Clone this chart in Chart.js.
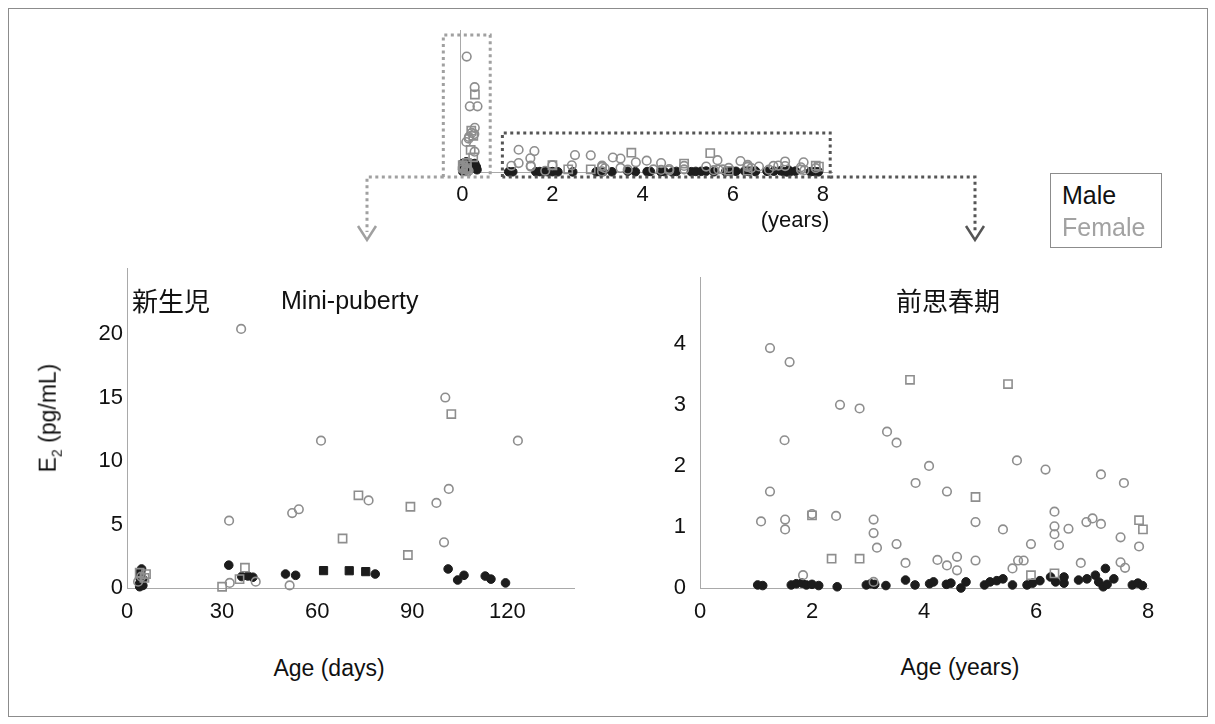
<!DOCTYPE html>
<html>
<head>
<meta charset="utf-8">
<script src="https://cdn.jsdelivr.net/npm/chart.js@4.4.1/dist/chart.umd.min.js"></script>
<style>
  body {
    margin: 0; background: #fff; width: 1215px; height: 724px;
    position: relative; overflow: hidden;
    font-family: 'Liberation Sans', Arial, sans-serif; color: #111;
  }
  .frame { position: absolute; left: 8px; top: 8px; width: 1198px; height: 707px; border: 1px solid #8c8c8c; }
  .wrap { position: absolute; }
  canvas { display: block; }
  .txt { position: absolute; white-space: nowrap; line-height: 1; }
  .c { transform: translate(-50%, -50%); }
  .l { transform: translateY(-50%); }
  .cjk { font-family: 'Noto Sans CJK JP', sans-serif; }
  .legend { position: absolute; left: 1050px; top: 173px; width: 110px; height: 73px; border: 1px solid #8c8c8c; }
</style>
</head>
<body>
<div class="frame"></div>

<div class="wrap" style="left:300px; top:10px"><canvas id="overview" width="720" height="250"></canvas></div>
<div class="wrap" style="left:0px; top:250px"><canvas id="infant" width="600" height="400"></canvas></div>
<div class="wrap" style="left:600px; top:250px"><canvas id="child" width="600" height="400"></canvas></div>

<div class="txt c" style="left:795px; top:220px; font-size:22px">(years)</div>

<div class="legend"></div>
<div class="txt l" style="left:1062px; top:195px; font-size:25px; color:#111">Male</div>
<div class="txt l" style="left:1062px; top:227px; font-size:25px; color:#a2a2a2">Female</div>

<div class="txt l cjk" style="left:132px; top:300px; font-size:26px">新生児</div>
<div class="txt l" style="left:281px; top:300px; font-size:25px">Mini-puberty</div>
<div class="txt c cjk" style="left:948px; top:300px; font-size:26px">前思春期</div>

<div class="txt c" style="left:50px; top:418px; font-size:23px; transform: translate(-50%, -50%) rotate(-90deg)">E<sub style="font-size:14px">2</sub> (pg/mL)</div>
<div class="txt c" style="left:329px; top:668px; font-size:23px">Age (days)</div>
<div class="txt c" style="left:960px; top:667px; font-size:23px">Age (years)</div>

<script>
// ── Data ──────────────────────────────────────────────────────────────────────

// infants, age in days, E2 in pg/mL
const infMaleCircDays  = [4, 4, 4.3, 4, 4.5, 4.2, 5, 5, 4.6, 32.1, 36.2, 38.1, 39.7, 50, 53.2, 78.3, 101.3, 104.3, 106.3, 113, 114.8, 119.4];
const infMaleCircE2    = [0.1, 0.35, 0.6, 0.85, 1.05, 1.3, 0.2, 0.7, 1.5, 1.8, 0.9, 0.95, 0.85, 1.1, 1.0, 1.1, 1.5, 0.63, 1.0, 0.94, 0.7, 0.4];
const infMaleSqDays    = [62, 70.1, 75.3];
const infMaleSqE2      = [1.37, 1.36, 1.29];
const infFemCircDays   = [36, 100.4, 61.2, 123.3, 101.5, 76.2, 97.6, 54.2, 52.1, 32.2, 100, 51.3, 40.6, 32.4, 3.5, 4.5];
const infFemCircE2     = [20.4, 15.0, 11.6, 11.6, 7.8, 6.9, 6.7, 6.2, 5.9, 5.3, 3.6, 0.2, 0.5, 0.4, 0.5, 0.9];
const infFemSqDays     = [102.3, 73, 89.4, 68, 88.6, 37.2, 30, 35.5, 5.5, 6, 4];
const infFemSqE2       = [13.7, 7.3, 6.4, 3.9, 2.6, 1.6, 0.1, 0.7, 0.8, 1.1, 1.2];

// children, age in years
const chMaleYears = [1.03, 1.12, 1.63, 1.72, 1.82, 1.9, 2.0, 2.12, 2.45, 2.97, 3.05, 3.12, 3.32, 3.67, 3.84,
                     4.1, 4.17, 4.4, 4.48, 4.66, 4.75, 5.08, 5.18, 5.3, 5.41, 5.58, 5.84, 5.94, 6.07, 6.26,
                     6.35, 6.5, 6.5, 6.76, 6.91, 7.06, 7.24, 7.12, 7.2, 7.27, 7.39, 7.72, 7.82, 7.9];
const chMaleE2    = [0.05, 0.04, 0.05, 0.07, 0.08, 0.05, 0.06, 0.04, 0.02, 0.05, 0.07, 0.06, 0.04, 0.13, 0.05,
                     0.07, 0.1, 0.06, 0.08, 0.0, 0.1, 0.05, 0.1, 0.12, 0.15, 0.05, 0.05, 0.08, 0.12, 0.18,
                     0.1, 0.08, 0.18, 0.13, 0.15, 0.21, 0.32, 0.1, 0.02, 0.06, 0.15, 0.05, 0.08, 0.04];
const chFemCircYears = [1.25, 1.6, 2.5, 2.85, 1.51, 3.34, 3.51, 4.09, 5.66, 6.17, 7.16, 7.57, 3.85, 4.41, 1.25,
                        1.09, 1.52, 1.52, 2.0, 2.43, 3.1, 3.1, 3.16, 3.51, 3.67, 4.24, 4.41, 4.59, 4.59, 4.92,
                        4.92, 5.41, 5.58, 5.68, 5.78, 5.91, 6.33, 6.33, 6.33, 6.41, 6.58, 6.8, 6.9, 7.01, 7.16,
                        7.51, 7.51, 7.59, 7.84, 1.84, 3.1];
const chFemCircE2    = [3.93, 3.7, 3.0, 2.94, 2.42, 2.56, 2.38, 2.0, 2.09, 1.94, 1.86, 1.72, 1.72, 1.58, 1.58,
                        1.09, 1.12, 0.96, 1.21, 1.18, 1.12, 0.9, 0.66, 0.72, 0.41, 0.46, 0.37, 0.51, 0.29, 1.08,
                        0.45, 0.96, 0.32, 0.45, 0.45, 0.72, 1.25, 1.01, 0.88, 0.7, 0.97, 0.41, 1.08, 1.14, 1.05,
                        0.83, 0.42, 0.33, 0.68, 0.21, 0.1];
const chFemSqYears   = [3.75, 5.5, 4.92, 2.0, 2.35, 2.85, 5.91, 6.33, 7.84, 7.91];
const chFemSqE2      = [3.41, 3.34, 1.49, 1.19, 0.48, 0.48, 0.21, 0.24, 1.11, 0.96];

// tick labels
const dayTicks   = [0, 30, 60, 90, 120];
const yearTicks  = [0, 2, 4, 6, 8];
const infE2Ticks = [0, 5, 10, 15, 20];
const chE2Ticks  = [0, 1, 2, 3, 4];

// ── Helpers ───────────────────────────────────────────────────────────────────

const MALE   = '#1c1c1c';
const FEMALE = '#8e8e8e';
const FONT   = "'Liberation Sans', Arial, sans-serif";

function pairs(xs, ys, scale = 1) {
    return xs.map((x, i) => ({ x: x * scale, y: ys[i] }));
}

function series(points, male, square) {
    return {
        data: points,
        pointStyle: square ? 'rect' : 'circle',
        pointRadius: square ? 5.8 : 4.3,
        borderWidth: male ? 1 : 1.6,
        borderColor: male ? MALE : FEMALE,
        backgroundColor: male ? MALE : 'rgba(0,0,0,0)',
        clip: false
    };
}

function fixedTicks(values) {
    return scale => { scale.ticks = values.map(v => ({ value: v })); };
}

function axis(min, max, ticks, size, pad, opts = {}) {
    return Object.assign({
        type: 'linear', min, max,
        afterBuildTicks: fixedTicks(ticks),
        grid: { display: false, drawTicks: false },
        border: { display: true, color: '#a9a9a9', width: 1 },
        ticks: {
            color: '#111', padding: pad,
            font: { family: FONT, size, lineHeight: 1.2 }
        }
    }, opts);
}

const baseOptions = {
    responsive: false,
    animation: false,
    devicePixelRatio: 1,
    events: [],
    plugins: { legend: { display: false }, tooltip: { enabled: false } }
};

// ── Overview with zoom frames ────────────────────────────────────────────────

function dotted(ctx, color, pts) {
    ctx.save();
    ctx.strokeStyle = color;
    ctx.lineWidth = 3;
    ctx.setLineDash([3, 3.5]);
    ctx.beginPath();
    ctx.moveTo(pts[0][0], pts[0][1]);
    for (let i = 1; i < pts.length; i++) ctx.lineTo(pts[i][0], pts[i][1]);
    ctx.stroke();
    ctx.restore();
}

function chevron(ctx, color, x, y) {
    ctx.save();
    ctx.strokeStyle = color;
    ctx.lineWidth = 2.5;
    ctx.beginPath();
    ctx.moveTo(x - 9, y - 14);
    ctx.lineTo(x, y);
    ctx.lineTo(x + 9, y - 14);
    ctx.stroke();
    ctx.restore();
}

const zoomFrames = {
    id: 'zoomFrames',
    afterDatasetsDraw(chart) {
        const { ctx, scales: { x, y } } = chart;
        // newborn / mini-puberty window
        const a = { l: x.getPixelForValue(-0.42), r: x.getPixelForValue(0.62),
                    t: y.getPixelForValue(24.2), b: y.getPixelForValue(-0.9) };
        // prepubertal window
        const b = { l: x.getPixelForValue(0.89), r: x.getPixelForValue(8.16),
                    t: y.getPixelForValue(6.9), b: y.getPixelForValue(-0.9) };
        const light = '#a0a0a0', dark = '#555';
        dotted(ctx, light, [[a.l, a.b], [a.l, a.t], [a.r, a.t], [a.r, a.b], [a.l, a.b]]);
        dotted(ctx, dark, [[b.l, b.b], [b.l, b.t], [b.r, b.t], [b.r, b.b], [b.l, b.b]]);
        // leaders down to the enlarged panels
        dotted(ctx, light, [[a.l, a.b], [67, a.b], [67, 222]]);
        dotted(ctx, dark, [[b.r, b.b], [675, b.b], [675, 222]]);
        chevron(ctx, light, 67, 230);
        chevron(ctx, dark, 675, 230);
    }
};

function initOverview() {
    const toYears = 1 / 365;
    new Chart(document.getElementById('overview'), {
        type: 'scatter',
        data: {
            datasets: [
                series(pairs(infFemCircDays, infFemCircE2, toYears), false, false),
                series(pairs(infFemSqDays, infFemSqE2, toYears), false, true),
                series(pairs(chFemCircYears, chFemCircE2), false, false),
                series(pairs(chFemSqYears, chFemSqE2), false, true),
                series(pairs(infMaleCircDays, infMaleCircE2, toYears), true, false),
                series(pairs(infMaleSqDays, infMaleSqE2, toYears), true, true),
                series(pairs(chMaleYears, chMaleE2), true, false)
            ]
        },
        options: Object.assign({}, baseOptions, {
            layout: { padding: { left: 0, top: 20, right: 188, bottom: 0 } },
            scales: {
                x: axis(-0.05, 8.2, yearTicks, 22, 10, { afterFit: s => { s.height = 88; } }),
                y: axis(0, 25.1, [], 22, 0, {
                    afterFit: s => { s.width = 160; },
                    ticks: { display: false }
                })
            }
        }),
        plugins: [zoomFrames]
    });
}

// ── Enlarged panels ───────────────────────────────────────────────────────────

function initInfant() {
    new Chart(document.getElementById('infant'), {
        type: 'scatter',
        data: {
            datasets: [
                series(pairs(infFemCircDays, infFemCircE2), false, false),
                series(pairs(infFemSqDays, infFemSqE2), false, true),
                series(pairs(infMaleCircDays, infMaleCircE2), true, false),
                series(pairs(infMaleSqDays, infMaleSqE2), true, true)
            ]
        },
        options: Object.assign({}, baseOptions, {
            layout: { padding: { left: 60, top: 18, right: 26, bottom: 0 } },
            scales: {
                x: axis(0, 141, dayTicks, 22, 11, { afterFit: s => { s.height = 62; } }),
                y: axis(0, 25.2, infE2Ticks, 22, 4, { afterFit: s => { s.width = 67; } })
            }
        })
    });
}

function initChild() {
    new Chart(document.getElementById('child'), {
        type: 'scatter',
        data: {
            datasets: [
                series(pairs(chFemCircYears, chFemCircE2), false, false),
                series(pairs(chFemSqYears, chFemSqE2), false, true),
                series(pairs(chMaleYears, chMaleE2), true, false)
            ]
        },
        options: Object.assign({}, baseOptions, {
            layout: { padding: { left: 60, top: 20, right: 52, bottom: 0 } },
            scales: {
                x: axis(0, 8, yearTicks, 22, 11, { afterFit: s => { s.height = 62; } }),
                y: axis(0, 5.09, chE2Ticks, 22, 14, { afterFit: s => { s.width = 40; } })
            }
        })
    });
}

// ── Init ──────────────────────────────────────────────────────────────────────

initOverview();
initInfant();
initChild();
</script>
</body>
</html>
